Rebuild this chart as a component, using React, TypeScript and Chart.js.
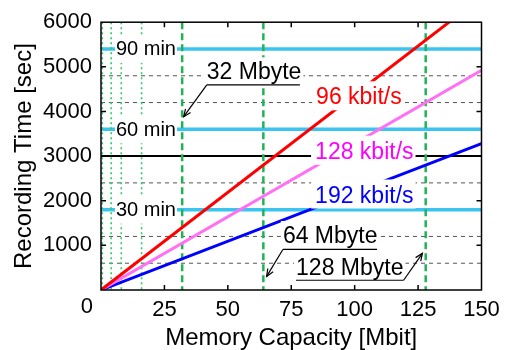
import { useEffect, useRef } from 'react';
import { Chart, registerables } from 'chart.js';

Chart.register(...registerables);

const FONT = '"Liberation Sans", Arial, Helvetica, sans-serif';

// Data
const MEMORY_MBIT = [0, 150];
const TIME_96 = [0, 6560];
const TIME_128 = [0, 4920];
const TIME_192 = [0, 3280];
const SERIES_LABELS = ['96 kbit/s', '128 kbit/s', '192 kbit/s'];

// Reference lines
const GRID_Y = [600, 1200, 1800, 2400, 3600, 4200, 4800, 5400];
const SOLID_Y = [3000];
const MINUTE_Y = [1800, 3600, 5400];
const MINUTE_LABELS = ['30 min', '60 min', '90 min'];
const DOTTED_X = [0.5, 4, 8, 16];
const MBYTE_X = [32, 64, 128];
const MBYTE_LABELS = ['32 Mbyte', '64 Mbyte', '128 Mbyte'];

const X_STEP = 25;
const Y_STEP = 1000;

// Annotation placement (data coordinates)
const MINUTE_LABEL_X = 5.9;
const SERIES_LABEL_POS = [
  { x: 84.8, y: 4160, color: '#ff0000' },
  { x: 84.4, y: 2940, color: '#ff00ff' },
  { x: 84.4, y: 1960, color: '#0000ff' },
];
const MBYTE_LABEL_POS = [
  { x: 41.7, y: 4720, ux0: 41.7, ux1: 78.4, uy: 4595, from: 'left', tx: 32.6, ty: 3883 },
  { x: 71.7, y: 1052, ux0: 71.7, ux1: 108.8, uy: 908, from: 'left', tx: 65.3, ty: 305 },
  { x: 76.9, y: 327, ux0: 76.9, ux1: 119.3, uy: 218, from: 'right', tx: 126.7, ty: 821 },
];

const points = (ys: number[]) => MEMORY_MBIT.map((x, i) => ({ x, y: ys[i] }));

function arrow(ctx: CanvasRenderingContext2D, x0: number, y0: number, x1: number, y1: number) {
  ctx.beginPath();
  ctx.moveTo(x0, y0);
  ctx.lineTo(x1, y1);
  ctx.stroke();
  const ang = Math.atan2(y1 - y0, x1 - x0);
  const L = 8;
  const s = 0.4;
  ctx.beginPath();
  ctx.moveTo(x1 - L * Math.cos(ang - s), y1 - L * Math.sin(ang - s));
  ctx.lineTo(x1, y1);
  ctx.lineTo(x1 - L * Math.cos(ang + s), y1 - L * Math.sin(ang + s));
  ctx.stroke();
}

const refPlugin = {
  id: 'refs',
  beforeDatasetsDraw(chart: any) {
    const { ctx, chartArea: a, scales } = chart;
    const x = scales.x;
    const y = scales.y;
    ctx.save();
    ctx.beginPath();
    ctx.rect(a.left, a.top, a.right - a.left, a.bottom - a.top);
    ctx.clip();
    const hline = (v: number) => {
      const py = y.getPixelForValue(v);
      ctx.beginPath();
      ctx.moveTo(a.left, py);
      ctx.lineTo(a.right, py);
      ctx.stroke();
    };
    const vline = (v: number) => {
      const px = x.getPixelForValue(v);
      ctx.beginPath();
      ctx.moveTo(px, a.top);
      ctx.lineTo(px, a.bottom);
      ctx.stroke();
    };
    ctx.strokeStyle = '#555555';
    ctx.lineWidth = 1;
    ctx.setLineDash([4, 4]);
    GRID_Y.forEach(hline);
    ctx.setLineDash([]);
    ctx.strokeStyle = '#000000';
    ctx.lineWidth = 2;
    SOLID_Y.forEach(hline);
    ctx.strokeStyle = '#3cc4f0';
    ctx.lineWidth = 3.5;
    MINUTE_Y.forEach(hline);
    ctx.strokeStyle = '#2ccb63';
    ctx.lineWidth = 1.6;
    ctx.setLineDash([2, 3]);
    DOTTED_X.forEach(vline);
    ctx.strokeStyle = '#1fb356';
    ctx.lineWidth = 2.5;
    ctx.setLineDash([7, 4]);
    MBYTE_X.forEach(vline);
    ctx.restore();
  },
  afterDatasetsDraw(chart: any) {
    const { ctx, chartArea: a, scales } = chart;
    const x = scales.x;
    const y = scales.y;
    ctx.save();
    ctx.textAlign = 'left';

    // minute labels
    ctx.font = `20px ${FONT}`;
    ctx.textBaseline = 'middle';
    MINUTE_LABELS.forEach((t, i) => {
      const px = x.getPixelForValue(MINUTE_LABEL_X);
      const py = y.getPixelForValue(MINUTE_Y[i]);
      const w = ctx.measureText(t).width;
      ctx.fillStyle = '#ffffff';
      ctx.fillRect(px - 1, py - 14, w + 2, 28);
      ctx.fillStyle = '#000000';
      ctx.fillText(t, px, py + 1);
    });

    ctx.font = `23px ${FONT}`;
    ctx.textBaseline = 'alphabetic';
    SERIES_LABELS.forEach((t, i) => {
      const p = SERIES_LABEL_POS[i];
      const px = x.getPixelForValue(p.x);
      const py = y.getPixelForValue(p.y);
      const w = ctx.measureText(t).width;
      ctx.fillStyle = '#ffffff';
      ctx.fillRect(px - 4, py - 23, w + 6, 29);
      ctx.fillStyle = p.color;
      ctx.fillText(t, px, py);
    });

    MBYTE_LABELS.forEach((t, i) => {
      const p = MBYTE_LABEL_POS[i];
      const px = x.getPixelForValue(p.x);
      const py = y.getPixelForValue(p.y);
      const w = ctx.measureText(t).width;
      ctx.fillStyle = '#ffffff';
      ctx.fillRect(px - 2, py - 22, w + 4, 27);
      ctx.fillStyle = '#000000';
      ctx.fillText(t, px, py);
      const ux0 = x.getPixelForValue(p.ux0);
      const ux1 = x.getPixelForValue(p.ux1);
      const uy = y.getPixelForValue(p.uy);
      ctx.strokeStyle = '#000000';
      ctx.lineWidth = 1.2;
      ctx.beginPath();
      ctx.moveTo(ux0, uy);
      ctx.lineTo(ux1, uy);
      ctx.stroke();
      const sx = p.from === 'left' ? ux0 : ux1;
      arrow(ctx, sx, uy, x.getPixelForValue(p.tx), y.getPixelForValue(p.ty));
    });

    // frame and inward ticks
    ctx.strokeStyle = '#000000';
    ctx.lineWidth = 1.5;
    ctx.strokeRect(a.left, a.top, a.right - a.left, a.bottom - a.top);
    ctx.beginPath();
    for (let v = X_STEP; v < 150; v += X_STEP) {
      const px = x.getPixelForValue(v);
      ctx.moveTo(px, a.bottom);
      ctx.lineTo(px, a.bottom - 5);
      ctx.moveTo(px, a.top);
      ctx.lineTo(px, a.top + 5);
    }
    for (let v = Y_STEP; v < 6000; v += Y_STEP) {
      const py = y.getPixelForValue(v);
      ctx.moveTo(a.left, py);
      ctx.lineTo(a.left + 5, py);
      ctx.moveTo(a.right, py);
      ctx.lineTo(a.right - 5, py);
    }
    ctx.stroke();

    // shared origin label
    ctx.font = `22px ${FONT}`;
    ctx.fillStyle = '#000000';
    ctx.textAlign = 'right';
    ctx.textBaseline = 'middle';
    ctx.fillText('0', x.getPixelForValue(0) - 8, a.bottom + 17);
    ctx.restore();
  },
};

export default function App() {
  const ref = useRef<HTMLCanvasElement>(null);
  useEffect(() => {
    document.body.style.margin = '0';
    const chart = new Chart(ref.current!, {
      type: 'line',
      data: {
        datasets: [
          { label: SERIES_LABELS[0], data: points(TIME_96), borderColor: '#ff0000', borderWidth: 3 },
          { label: SERIES_LABELS[1], data: points(TIME_128), borderColor: '#ff70f4', borderWidth: 3 },
          { label: SERIES_LABELS[2], data: points(TIME_192), borderColor: '#0000ff', borderWidth: 3 },
        ],
      },
      options: {
        animation: false,
        responsive: false,
        devicePixelRatio: 1,
        layout: { padding: { left: 0, right: 30.5, top: 14.5, bottom: 0 } },
        elements: { point: { radius: 0 }, line: { tension: 0 } },
        plugins: { legend: { display: false }, tooltip: { enabled: false } },
        scales: {
          x: {
            type: 'linear',
            min: 0,
            max: 150,
            afterFit: (s: any) => { s.height = 60; },
            grid: { display: false, drawTicks: false },
            border: { display: false },
            ticks: {
              stepSize: X_STEP,
              padding: 7,
              color: '#000',
              font: { family: FONT, size: 22 },
              callback: (v: any) => (v === 0 ? '' : String(v)),
            },
            title: { display: true, text: 'Memory Capacity [Mbit]', color: '#000', font: { family: FONT, size: 24 }, padding: { top: 0, bottom: -3 } },
          },
          y: {
            min: 0,
            max: 6000,
            afterFit: (s: any) => { s.width = 101; },
            grid: { display: false, drawTicks: false },
            border: { display: false },
            ticks: {
              stepSize: Y_STEP,
              padding: 9,
              color: '#000',
              font: { family: FONT, size: 22 },
              callback: (v: any) => (v === 0 ? '' : String(v)),
            },
            title: { display: true, text: 'Recording Time [sec]', color: '#000', font: { family: FONT, size: 24 }, padding: { top: 10, bottom: 0 } },
          },
        },
      },
      plugins: [refPlugin],
    } as any);
    return () => chart.destroy();
  }, []);
  return (
    <div style={{ width: 512, height: 350 }}>
      <canvas ref={ref} width={512} height={350} style={{ display: 'block' }} />
    </div>
  );
}
